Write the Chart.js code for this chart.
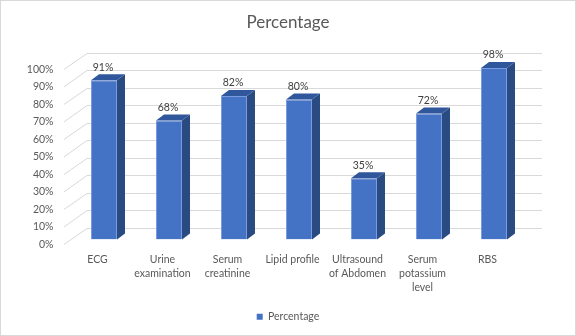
<!DOCTYPE html>
<html>
<head>
<meta charset="utf-8">
<script src="https://cdn.jsdelivr.net/npm/chart.js@4/dist/chart.umd.min.js"></script>
<style>
  body { margin: 0; background: #fff; }
  canvas { display: block; }
</style>
</head>
<body>
<canvas id="grafica" width="576" height="336"></canvas>
<script>
// categorias y valores (porcentaje)
const categorias = [
  ['ECG'],
  ['Urine', 'examination'],
  ['Serum', 'creatinine'],
  ['Lipid profile'],
  ['Ultrasound', 'of Abdomen'],
  ['Serum', 'potassium', 'level'],
  ['RBS']
]
const porcentajes = [91, 68, 82, 80, 35, 72, 98]
const ticksY = [0, 10, 20, 30, 40, 50, 60, 70, 80, 90, 100]

const fuente = 'Lato, "Open Sans", sans-serif'
const gris = '#595959'

// profundidad de las barras y de la pared del fondo
const prof = { dx: 8, dy: -6 }
const fondo = { dx: 15.5, dy: -11.7, izq: -7.5 }

const marco = {
  id: 'marco',
  beforeDraw(chart) {
    const c = chart.ctx
    c.save()
    c.fillStyle = '#fff'
    c.fillRect(0, 0, chart.width, chart.height)
    c.strokeStyle = '#d9d9d9'
    c.lineWidth = 1
    c.strokeRect(0.5, 0.5, chart.width - 1, chart.height - 1)
    c.restore()
  }
}

// lineas de la pared del fondo y diagonales del piso lateral
const rejilla = {
  id: 'rejilla',
  beforeDatasetsDraw(chart) {
    const c = chart.ctx
    const a = chart.chartArea
    const y = chart.scales.y
    c.save()
    c.strokeStyle = '#d9d9d9'
    c.lineWidth = 1
    ticksY.forEach(v => {
      const py = y.getPixelForValue(v)
      const yb = Math.round(py + fondo.dy) + 0.5
      c.beginPath()
      c.moveTo(a.left + fondo.izq, py + 5)
      c.lineTo(a.left + fondo.dx, yb)
      c.lineTo(a.right + fondo.dx, yb)
      c.stroke()
    })
    c.restore()
  }
}

// caras lateral y superior de cada barra, y etiquetas de valor
const barras3d = {
  id: 'barras3d',
  afterDatasetsDraw(chart) {
    const c = chart.ctx
    const meta = chart.getDatasetMeta(0)
    c.save()
    meta.data.forEach((bar, i) => {
      const p = bar.getProps(['x', 'y', 'base', 'width'], true)
      const l = p.x - p.width / 2
      const r = p.x + p.width / 2
      // lateral
      c.fillStyle = '#2a4a82'
      c.beginPath()
      c.moveTo(r, p.y)
      c.lineTo(r + prof.dx, p.y + prof.dy)
      c.lineTo(r + prof.dx, p.base + prof.dy)
      c.lineTo(r, p.base)
      c.closePath()
      c.fill()
      // tapa
      c.fillStyle = '#30579c'
      c.beginPath()
      c.moveTo(l, p.y)
      c.lineTo(l + prof.dx, p.y + prof.dy)
      c.lineTo(r + prof.dx, p.y + prof.dy)
      c.lineTo(r, p.y)
      c.closePath()
      c.fill()
      // valor
      c.fillStyle = '#404040'
      c.font = '10.5px ' + fuente
      c.textAlign = 'center'
      c.textBaseline = 'middle'
      c.fillText(porcentajes[i] + '%', p.x - 1, p.y - 13)
    })
    c.restore()
  }
}

const ctx = document.getElementById('grafica')

const grafica = new Chart(ctx, {
  type: 'bar',
  data: {
    labels: categorias,
    datasets: [{
      label: 'Percentage',
      data: porcentajes,
      backgroundColor: '#4472C4',
      borderColor: '#7a9be0',
      borderWidth: 1,
      categoryPercentage: 1,
      barPercentage: 0.4
    }]
  },
  options: {
    responsive: false,
    animation: false,
    layout: { padding: { left: 0, right: 0, top: 0, bottom: 4 } },
    plugins: {
      title: {
        display: true,
        text: 'Percentage',
        color: gris,
        font: { family: fuente, size: 17, weight: 'normal', lineHeight: 1.2 },
        padding: { top: 12, bottom: 32 }
      },
      legend: {
        position: 'bottom',
        labels: {
          color: gris,
          boxWidth: 6,
          boxHeight: 6,
          font: { family: fuente, size: 10.5 },
          generateLabels: chart => Chart.defaults.plugins.legend.labels.generateLabels(chart)
            .map(l => ({ ...l, lineWidth: 0, fillStyle: '#4472C4' }))
        }
      },
      tooltip: { enabled: false }
    },
    scales: {
      x: {
        grid: { display: false, drawTicks: false },
        border: { display: false },
        ticks: {
          color: gris,
          font: { family: fuente, size: 10.5, lineHeight: 1.36 },
          padding: 12.5,
          labelOffset: -6.5,
          maxRotation: 0,
          autoSkip: false
        },
        afterFit: s => { s.height = 62 }
      },
      y: {
        min: 0,
        max: 100,
        grid: { display: false, drawTicks: false },
        border: { display: false },
        ticks: {
          stepSize: 10,
          color: gris,
          font: { family: fuente, size: 10.5 },
          padding: 18,
          labelOffset: 5,
          callback: v => v + '%'
        },
        afterFit: s => { s.width = 71.5 }
      },
      // margen derecho reservado para la profundidad de la pared
      margen: {
        position: 'right',
        grid: { display: false, drawTicks: false },
        border: { display: false },
        ticks: { display: false },
        afterFit: s => { s.width = 49.5 }
      }
    }
  },
  plugins: [marco, rejilla, barras3d]
})
</script>
</body>
</html>
